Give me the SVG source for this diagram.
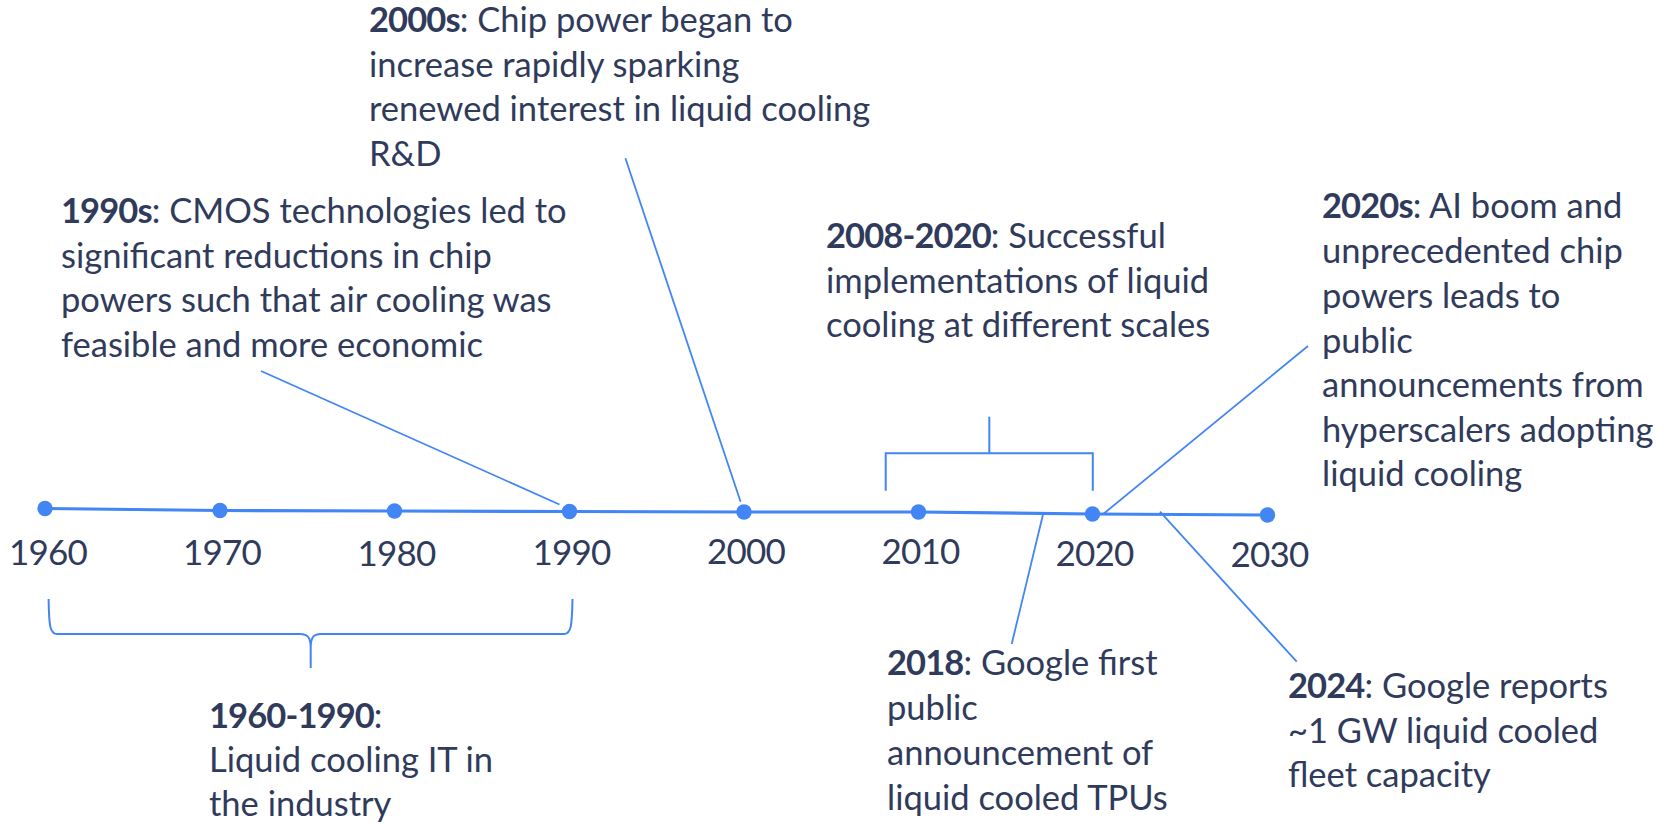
<svg xmlns="http://www.w3.org/2000/svg" width="1675" height="824" viewBox="0 0 1675 824">
  <style>
    .t { font-family: Lato, "Open Sans", "Liberation Sans", sans-serif; font-size: 34.5px; fill: #303B5C; }
    .b { font-weight: bold; letter-spacing: -0.9px; }
    .yr { font-family: Lato, "Open Sans", "Liberation Sans", sans-serif; font-size: 35px; fill: #303B5C; text-anchor: middle; letter-spacing: -0.8px; }
    .axis { fill: none; stroke: #4285F4; stroke-width: 3.2; stroke-linejoin: round; }
    .dot { fill: #4285F4; }
    .conn { fill: none; stroke: #4285F4; stroke-width: 1.8; }
    .brk { fill: none; stroke: #4285F4; stroke-width: 2; }
  </style>
  <rect width="1675" height="824" fill="#FFFFFF"/>

  <!-- timeline axis -->
  <g id="axis">
    <polyline class="axis" points="45,508.5 220,510.5 394.5,511 569.5,511.5 744,512 918.5,512 1092.5,514 1267.5,515"/>
  </g>

  <!-- connectors: leader lines and brackets -->
  <g id="connectors">
    <line class="conn" x1="261" y1="371" x2="559.5" y2="504.5"/>
    <line class="conn" x1="625.4" y1="158.3" x2="740.6" y2="501.7"/>
    <line class="conn" x1="1103.3" y1="514" x2="1308" y2="346"/>
    <line class="conn" x1="1043.3" y1="513.3" x2="1011.7" y2="644"/>
    <line class="conn" x1="1160" y1="511.7" x2="1296.7" y2="661.7"/>
    <path class="brk" d="M989.3,416.7 V453.3 M885.7,490.7 V453.3 H1092.8 V490.7"/>
    <path class="brk" d="M48.6,599 C49,626 50,634 57,634 H300 C308,634 310.7,638 310.7,648 V668 M310.7,648 C310.7,638 313,634 321,634 H564 C571,634 572,626 572.5,599"/>
  </g>

  <!-- decade markers -->
  <g id="y1960"><circle class="dot" cx="45" cy="508.5" r="7.7"/><text class="yr" x="48" y="565">1960</text></g>
  <g id="y1970"><circle class="dot" cx="220" cy="510.5" r="7.7"/><text class="yr" x="222" y="565">1970</text></g>
  <g id="y1980"><circle class="dot" cx="394.5" cy="511" r="7.7"/><text class="yr" x="396.5" y="566">1980</text></g>
  <g id="y1990"><circle class="dot" cx="569.5" cy="511.5" r="7.7"/><text class="yr" x="571.5" y="565">1990</text></g>
  <g id="y2000"><circle class="dot" cx="744" cy="512" r="7.7"/><text class="yr" x="746" y="564">2000</text></g>
  <g id="y2010"><circle class="dot" cx="918.5" cy="512" r="7.7"/><text class="yr" x="920.5" y="564">2010</text></g>
  <g id="y2020"><circle class="dot" cx="1092.5" cy="514" r="7.7"/><text class="yr" x="1094.5" y="566">2020</text></g>
  <g id="y2030"><circle class="dot" cx="1267.5" cy="515" r="7.7"/><text class="yr" x="1269.5" y="567">2030</text></g>

  <!-- event notes -->
  <g id="note2000s">
    <text class="t" x="369" y="32"><tspan class="b">2000s</tspan>: Chip power began to</text>
    <text class="t" x="369" y="76.5">increase rapidly sparking</text>
    <text class="t" x="369" y="121">renewed interest in liquid cooling</text>
    <text class="t" x="369" y="165.5">R&amp;D</text>
  </g>
  <g id="note1990s">
    <text class="t" x="61" y="223"><tspan class="b">1990s</tspan>: CMOS technologies led to</text>
    <text class="t" x="61" y="267.5">significant reductions in chip</text>
    <text class="t" x="61" y="312">powers such that air cooling was</text>
    <text class="t" x="61" y="356.5">feasible and more economic</text>
  </g>
  <g id="note2008">
    <text class="t" x="826" y="248"><tspan class="b">2008-2020</tspan>: Successful</text>
    <text class="t" x="826" y="292.5">implementations of liquid</text>
    <text class="t" x="826" y="337">cooling at different scales</text>
  </g>
  <g id="note2020s">
    <text class="t" x="1322" y="218"><tspan class="b">2020s</tspan>: AI boom and</text>
    <text class="t" x="1322" y="262.5">unprecedented chip</text>
    <text class="t" x="1322" y="307.5">powers leads to</text>
    <text class="t" x="1322" y="352.5">public</text>
    <text class="t" x="1322" y="397">announcements from</text>
    <text class="t" x="1322" y="441.5">hyperscalers adopting</text>
    <text class="t" x="1322" y="486">liquid cooling</text>
  </g>
  <g id="note2018">
    <text class="t" x="887" y="675"><tspan class="b">2018</tspan>: Google first</text>
    <text class="t" x="887" y="720">public</text>
    <text class="t" x="887" y="765">announcement of</text>
    <text class="t" x="887" y="810">liquid cooled TPUs</text>
  </g>
  <g id="note2024">
    <text class="t" x="1288" y="698"><tspan class="b">2024</tspan>: Google reports</text>
    <text class="t" x="1288" y="742.5">~1 GW liquid cooled</text>
    <text class="t" x="1288" y="787">fleet capacity</text>
  </g>
  <g id="note1960">
    <text class="t" x="209" y="727.5"><tspan class="b">1960-1990</tspan>:</text>
    <text class="t" x="209" y="771.5">Liquid cooling IT in</text>
    <text class="t" x="209" y="815.5">the industry</text>
  </g>
</svg>
